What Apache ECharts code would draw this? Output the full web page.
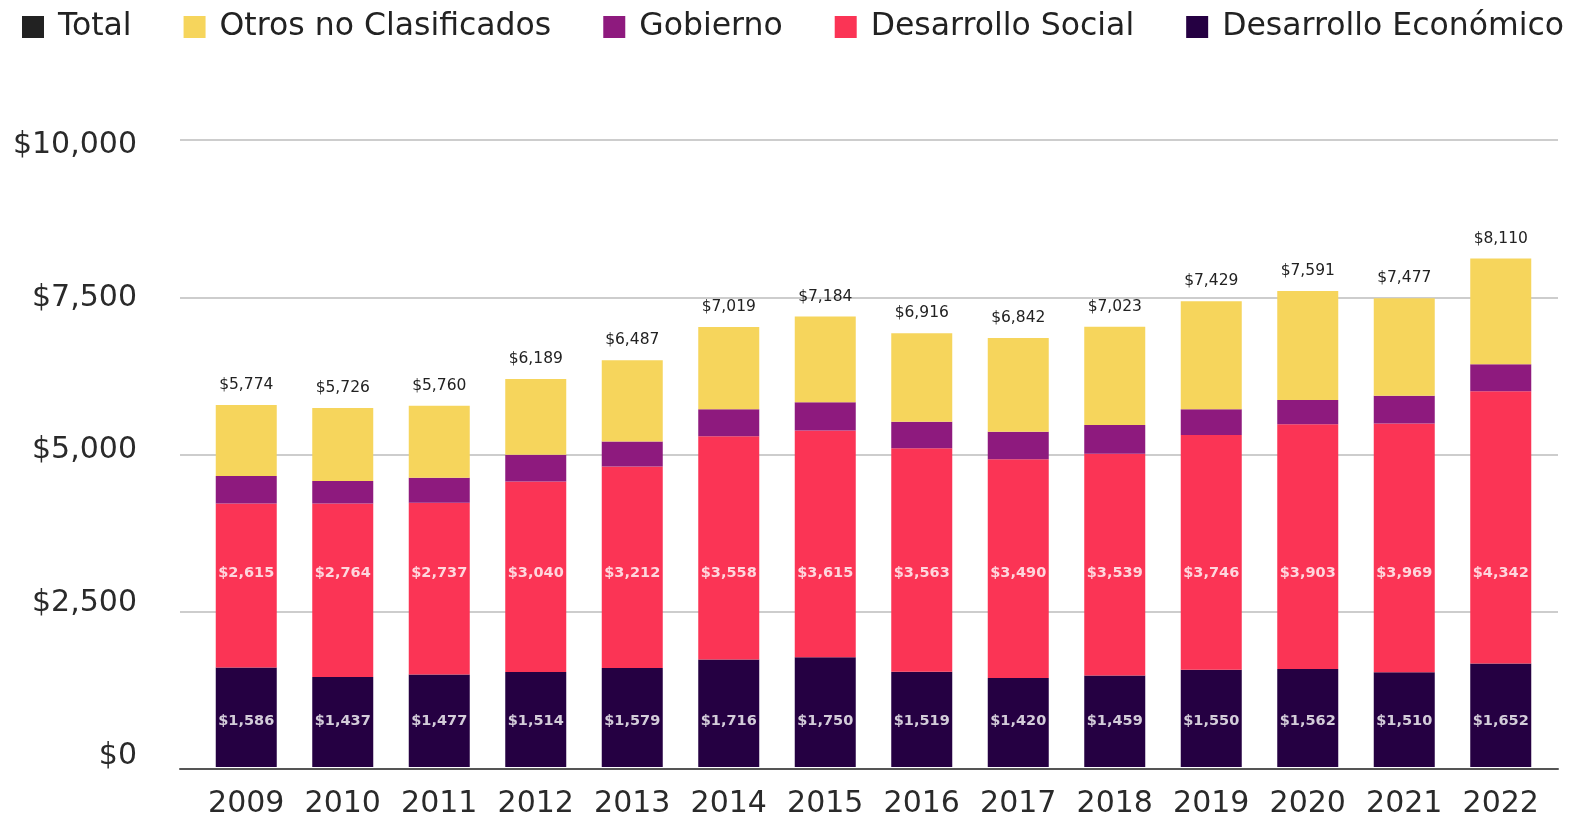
<!DOCTYPE html>
<html>
<head>
<meta charset="utf-8">
<script src="https://cdn.jsdelivr.net/npm/echarts@6/dist/echarts.min.js"></script>
<style>
  html, body { margin: 0; padding: 0; background: #fff; }
  #chart { width: 1575px; height: 819px; }
</style>
</head>
<body>
<div id="chart"></div>
<script>
// chart data
const years = ['2009', '2010', '2011', '2012', '2013', '2014', '2015', '2016', '2017', '2018', '2019', '2020', '2021', '2022'];
const economico = [1586, 1437, 1477, 1514, 1579, 1716, 1750, 1519, 1420, 1459, 1550, 1562, 1510, 1652];
const social = [2615, 2764, 2737, 3040, 3212, 3558, 3615, 3563, 3490, 3539, 3746, 3903, 3969, 4342];
const gobierno = [440, 361, 401, 425, 399, 433, 453, 424, 438, 456, 411, 389, 444, 430];
const otros = [1133, 1164, 1145, 1210, 1297, 1312, 1366, 1410, 1494, 1569, 1722, 1737, 1554, 1686];
const totals = [5774, 5726, 5760, 6189, 6487, 7019, 7184, 6916, 6842, 7023, 7429, 7591, 7477, 8110];
const yTicks = [0, 2500, 5000, 7500, 10000];

// height at which the in-bar labels sit (the source keeps them on one line)
const socialLabelLevel = 3090;
const econLabelLevel = 735;

const fmt = v => '$' + Number(v).toLocaleString('en-US');
const uiFont = '"DejaVu Sans", sans-serif';
const numFont = '"DejaVu Sans", Verdana, sans-serif';

const chart = echarts.init(document.getElementById('chart'));

const barLabelStyle = (arr) => ({
  show: true,
  position: 'inside',
  color: '#fff',
  fontFamily: numFont,
  fontWeight: 'bold',
  fontSize: 14.5,
  formatter: p => fmt(arr[p.dataIndex])
});

const option = {
  animation: false,
  legend: {
    top: 11,
    left: 22,
    padding: 0,
    icon: 'rect',
    itemWidth: 22,
    itemHeight: 22,
    itemGap: 52,
    textStyle: { fontFamily: uiFont, fontSize: 31.5, color: '#222', padding: [0, 0, 0, 9] },
    data: ['Total', 'Otros no Clasificados', 'Gobierno', 'Desarrollo Social', 'Desarrollo Económico']
  },
  grid: [
    { left: 198, right: 26, top: 140, bottom: 50 },
    { left: 180, right: 17, top: 140, bottom: 50 },
    { left: 180, right: 17, top: 145, bottom: 63 }
  ],
  xAxis: [
    {
      type: 'category', gridIndex: 0, data: years,
      axisLine: { show: false }, axisTick: { show: false },
      axisLabel: { interval: 0, fontFamily: uiFont, fontSize: 30, color: '#2a2a2a', margin: 22 }
    },
    {
      type: 'value', gridIndex: 1, min: 0, max: 1,
      axisLine: { show: true, lineStyle: { color: '#555', width: 2 } },
      axisTick: { show: false }, axisLabel: { show: false }, splitLine: { show: false }
    },
    { type: 'value', gridIndex: 2, min: 0, max: 1, show: false }
  ],
  yAxis: [
    { type: 'value', gridIndex: 0, min: 0, max: 10000, interval: 2500, show: false, splitLine: { show: false } },
    {
      type: 'value', gridIndex: 1, min: yTicks[0], max: yTicks[yTicks.length - 1], interval: 2500,
      axisLine: { show: false }, axisTick: { show: false }, axisLabel: { show: false },
      splitLine: { lineStyle: { color: '#bdbdbd', width: 1.5 } }
    },
    {
      type: 'value', gridIndex: 2, min: yTicks[0], max: yTicks[yTicks.length - 1], interval: 2500,
      axisLine: { show: false }, axisTick: { show: false }, splitLine: { show: false },
      axisLabel: { fontFamily: uiFont, fontSize: 30, color: '#2a2a2a', margin: 43, formatter: v => fmt(v) }
    }
  ],
  series: [
    {
      name: 'Desarrollo Económico', type: 'bar', stack: 'gasto', barWidth: 61,
      itemStyle: { color: '#250042' }, data: economico
    },
    {
      name: 'Desarrollo Social', type: 'bar', stack: 'gasto',
      itemStyle: { color: '#FB3455' }, data: social
    },
    {
      name: 'Gobierno', type: 'bar', stack: 'gasto',
      itemStyle: { color: '#8E1A7E' }, data: gobierno
    },
    {
      name: 'Otros no Clasificados', type: 'bar', stack: 'gasto',
      itemStyle: { color: '#F6D55C' }, data: otros
    },
    {
      name: 'Total', type: 'scatter', symbolSize: 0,
      itemStyle: { color: '#222', opacity: 1 },
      label: {
        show: true, position: 'top', distance: 12,
        fontFamily: numFont, fontSize: 15.5, color: '#222',
        formatter: p => fmt(totals[p.dataIndex])
      },
      data: totals
    },
    {
      name: 'socialLabels', type: 'scatter', symbolSize: 0, silent: true,
      label: barLabelStyle(social),
      data: years.map(() => socialLabelLevel)
    },
    {
      name: 'econLabels', type: 'scatter', symbolSize: 0, silent: true,
      label: barLabelStyle(economico),
      data: years.map(() => econLabelLevel)
    }
  ]
};

chart.setOption(option);
</script>
</body>
</html>
